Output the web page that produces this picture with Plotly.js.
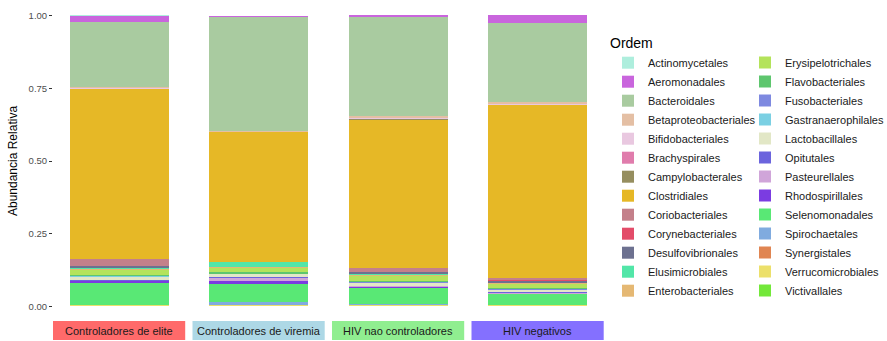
<!DOCTYPE html>
<html>
<head>
<meta charset="utf-8">
<script src="https://cdn.plot.ly/plotly-3.0.1.min.js"></script>
<style>html,body{margin:0;padding:0;background:#fff;}#chart{width:887px;height:341px;}</style>
</head>
<body>
<div id="chart"></div>
<script>
// Facet groups
const groups = ["Controladores de elite", "Controladores de viremia", "HIV nao controladores", "HIV negativos"];
const stripColors = ["#ff6a6a", "#add8e6", "#90ee90", "#8470ff"];

// Orders (legend order; first level stacks on top)
const orders = ["Actinomycetales", "Aeromonadales", "Bacteroidales", "Betaproteobacteriales", "Bifidobacteriales",
  "Brachyspirales", "Campylobacterales", "Clostridiales", "Coriobacteriales", "Corynebacteriales",
  "Desulfovibrionales", "Elusimicrobiales", "Enterobacteriales", "Erysipelotrichales", "Flavobacteriales",
  "Fusobacteriales", "Gastranaerophilales", "Lactobacillales", "Opitutales", "Pasteurellales",
  "Rhodospirillales", "Selenomonadales", "Spirochaetales", "Synergistales", "Verrucomicrobiales", "Victivallales"];

const orderColors = ["#aeeedd", "#c965dd", "#a9cba0", "#e4bfa4", "#e9c8e0",
  "#e07cac", "#968e5f", "#e6b826", "#c4808a", "#e34c69",
  "#6d7190", "#52e6a8", "#e5b873", "#b4e35b", "#5ec66e",
  "#7e89e0", "#7bd0e3", "#e2e7c6", "#6b64dd", "#d0a5d9",
  "#7b3ce1", "#59e875", "#80abdf", "#e08552", "#ece06b", "#73e83a"];

// Relative abundance per group (same order as `orders`)
const eliteValues = [0.001, 0.022, 0.222, 0.004, 0.003, 0.000, 0.000, 0.585, 0.025, 0.001,
  0.007, 0.002, 0.003, 0.019, 0.001, 0.001, 0.003, 0.012, 0.002, 0.002,
  0.007, 0.074, 0.001, 0.000, 0.002, 0.002];
const viremiaValues = [0.001, 0.004, 0.392, 0.002, 0.001, 0.000, 0.000, 0.446, 0.001, 0.000,
  0.001, 0.016, 0.003, 0.016, 0.004, 0.001, 0.002, 0.010, 0.001, 0.013,
  0.010, 0.061, 0.009, 0.001, 0.003, 0.002];
const naoControladoresValues = [0.001, 0.008, 0.341, 0.006, 0.004, 0.000, 0.001, 0.510, 0.013, 0.001,
  0.007, 0.002, 0.005, 0.017, 0.003, 0.003, 0.002, 0.008, 0.001, 0.004,
  0.003, 0.056, 0.002, 0.001, 0.002, 0.002];
const negativosValues = [0.001, 0.029, 0.269, 0.008, 0.004, 0.000, 0.000, 0.594, 0.008, 0.001,
  0.007, 0.001, 0.005, 0.014, 0.003, 0.001, 0.002, 0.008, 0.001, 0.003,
  0.002, 0.036, 0.002, 0.000, 0.002, 0.002];

const groupValues = [eliteValues, viremiaValues, naoControladoresValues, negativosValues];

const yTickVals = [0, 0.25, 0.5, 0.75, 1];
const yTickText = ["0.00", "0.25", "0.50", "0.75", "1.00"];

// ---- layout geometry (pixels) ----
const W = 887, H = 341;
const mL = 53, mR = 283, mT = 1, mB = 20;
const plotW = W - mL - mR, plotH = H - mT - mB;
const panelW = 132.2, panelGap = 7.3;

const traces = [];
// add in reverse so the first level ends on top of the stack
for (let j = orders.length - 1; j >= 0; j--) {
  for (let i = 0; i < groups.length; i++) {
    traces.push({
      type: "bar",
      x: [groups[i]],
      y: [groupValues[i][j]],
      width: 0.9,
      xaxis: i === 0 ? "x" : "x" + (i + 1),
      yaxis: "y",
      name: orders[j],
      legendgroup: orders[j],
      legend: j < 13 ? "legend" : "legend2",
      showlegend: i === 0,
      marker: { color: orderColors[j], line: { width: 0 } },
      hoverinfo: "skip"
    });
  }
}

const layout = {
  width: W, height: H,
  margin: { l: mL, r: mR, t: mT, b: mB },
  paper_bgcolor: "#ffffff",
  plot_bgcolor: "#ffffff",
  barmode: "stack",
  font: { family: "Liberation Sans, Arial, sans-serif", color: "#1a1a1a" },
  yaxis: {
    range: [-0.05, 1.05],
    tickvals: yTickVals, ticktext: yTickText,
    ticks: "outside", ticklen: 3, tickwidth: 1, tickcolor: "#333333",
    tickfont: { size: 9.5, color: "#4d4d4d" },
    showgrid: false, zeroline: false, showline: false,
    title: { text: "Abundancia Relativa", font: { size: 12, color: "#000000" }, standoff: 8 },
    anchor: "x"
  },
  legend: {
    title: { text: "Ordem", font: { size: 14, color: "#000000" } },
    xref: "container", yref: "container",
    x: 608 / W, y: 1 - 30 / H, xanchor: "left", yanchor: "top",
    maxheight: 1000,
    traceorder: "reversed",
    font: { size: 11, color: "#1a1a1a" },
    bgcolor: "rgba(0,0,0,0)"
  },
  legend2: {
    xref: "container", yref: "container",
    x: 745 / W, y: 1 - 48 / H, xanchor: "left", yanchor: "top",
    maxheight: 1000,
    traceorder: "reversed",
    font: { size: 11, color: "#1a1a1a" },
    bgcolor: "rgba(0,0,0,0)"
  },
  shapes: [],
  annotations: []
};

for (let i = 0; i < groups.length; i++) {
  const x0 = (i * (panelW + panelGap)) / plotW;
  const x1 = (i * (panelW + panelGap) + panelW) / plotW;
  const key = i === 0 ? "xaxis" : "xaxis" + (i + 1);
  layout[key] = {
    domain: [x0, x1],
    anchor: "y",
    type: "category",
    range: [-0.6, 0.6],
    showticklabels: false, ticks: "", showgrid: false, zeroline: false, showline: false
  };
  // facet strip
  layout.shapes.push({
    type: "rect", xref: "paper", yref: "paper",
    x0: x0, x1: x1, y0: -19 / plotH, y1: 0,
    fillcolor: stripColors[i], line: { width: 0 }, layer: "below"
  });
  layout.annotations.push({
    xref: "paper", yref: "paper",
    x: (x0 + x1) / 2, y: -9.5 / plotH,
    text: groups[i], showarrow: false,
    xanchor: "center", yanchor: "middle",
    font: { size: 11, color: "#1a1a1a" }
  });
}

Plotly.newPlot("chart", traces, layout, { displayModeBar: false, staticPlot: true });
</script>
</body>
</html>
